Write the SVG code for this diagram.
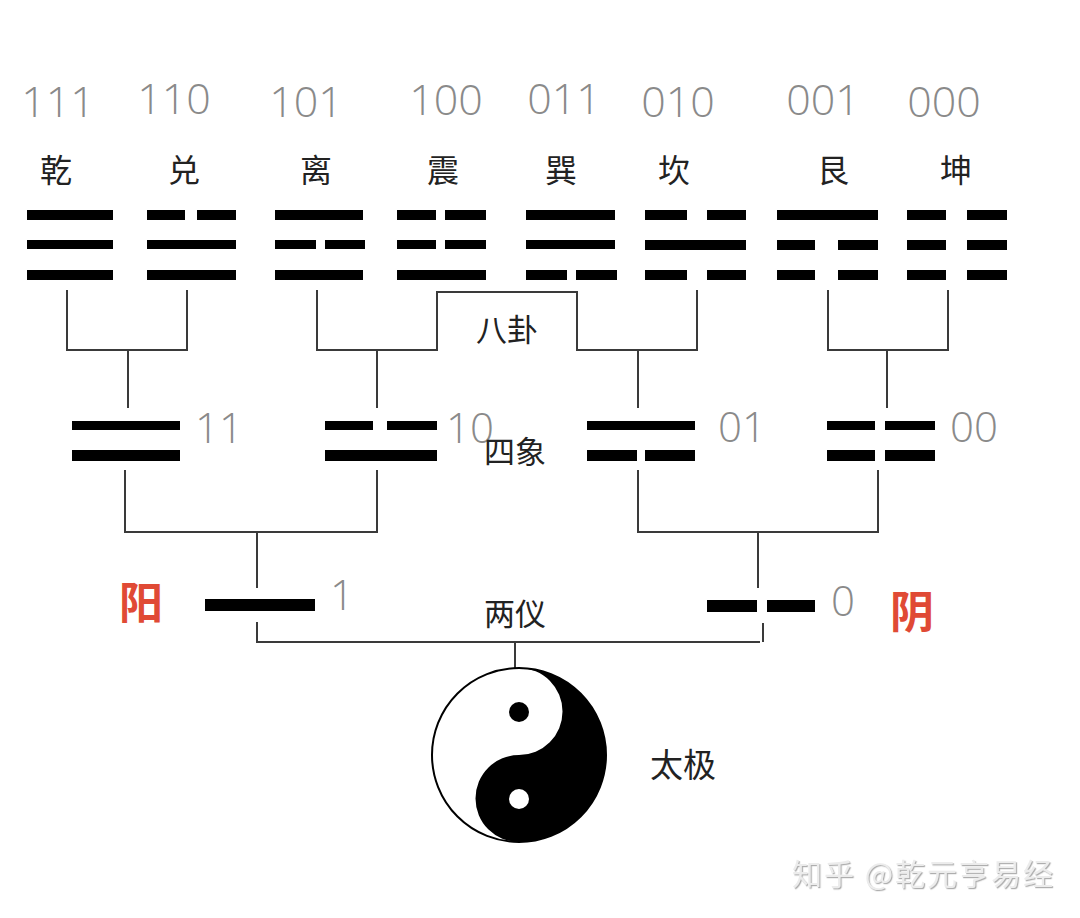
<svg xmlns="http://www.w3.org/2000/svg" width="1080" height="918" viewBox="0 0 1080 918">
<style>
.num{font-family:"Open Sans","Liberation Sans",sans-serif;font-weight:300;fill:#8a8a8a;}
.n3{font-size:43px;text-anchor:middle;}
.n2{font-size:42px;}
.cjk{font-family:"Noto Sans CJK SC","Noto Sans",sans-serif;fill:#222;}
.name{font-size:32px;text-anchor:middle;}
.lvl{font-size:31px;text-anchor:middle;}
.red{font-family:"Noto Sans CJK SC",sans-serif;font-size:44px;font-weight:bold;fill:#e04a35;text-anchor:middle;}
.bar{fill:#000;}
.conn{fill:none;stroke:#3a3a3a;stroke-width:2;}
.wm{font-family:"Noto Sans CJK SC",sans-serif;font-size:30px;fill:#ececec;}
</style>
<defs>
<filter id="emb" x="-5%" y="-20%" width="110%" height="140%">
<feDropShadow dx="1.2" dy="1.2" stdDeviation="0.6" flood-color="#9a9a9a" flood-opacity="0.8"/>
</filter>
</defs>
<rect width="1080" height="918" fill="#fff"/>

<g id="connectors" class="conn">
<path d="M67,290 V350 H187 V290"/>
<path d="M128,350 V408"/>
<path d="M317,290 V350 H437 V292 H577 V350 H697 V290"/>
<path d="M377,350 V408"/>
<path d="M638,350 V408"/>
<path d="M828,290 V350 H948 V290"/>
<path d="M887,350 V408"/>
<path d="M125,470 V532 H377 V470"/>
<path d="M257,532 V588"/>
<path d="M638,470 V532 H878 V470"/>
<path d="M758,532 V588"/>
<path d="M257,622 V642 H760"/>
<path d="M763,623 V642"/>
<path d="M515,642 V670"/>
</g>

<g id="trigram-qian">
<text class="num n3" x="58" y="117">111</text>
<text class="cjk name" x="56" y="182">乾</text>
<rect class="bar" x="27" y="210" width="86" height="10"/>
<rect class="bar" x="27" y="240" width="86" height="9"/>
<rect class="bar" x="27" y="270" width="86" height="10"/>
</g>
<g id="trigram-dui">
<text class="num n3" x="174" y="114">110</text>
<text class="cjk name" x="184" y="182">兑</text>
<rect class="bar" x="147" y="210" width="38" height="10"/>
<rect class="bar" x="197" y="210" width="39" height="10"/>
<rect class="bar" x="147" y="240" width="89" height="9"/>
<rect class="bar" x="147" y="270" width="89" height="10"/>
</g>
<g id="trigram-li">
<text class="num n3" x="306" y="117">101</text>
<text class="cjk name" x="316" y="182">离</text>
<rect class="bar" x="275" y="210" width="88" height="10"/>
<rect class="bar" x="275" y="240" width="41" height="9"/>
<rect class="bar" x="325" y="240" width="40" height="9"/>
<rect class="bar" x="275" y="270" width="88" height="10"/>
</g>
<g id="trigram-zhen">
<text class="num n3" x="446" y="115">100</text>
<text class="cjk name" x="443" y="182">震</text>
<rect class="bar" x="397" y="210" width="39" height="10"/>
<rect class="bar" x="445" y="210" width="41" height="10"/>
<rect class="bar" x="397" y="240" width="39" height="9"/>
<rect class="bar" x="445" y="240" width="41" height="9"/>
<rect class="bar" x="397" y="270" width="89" height="10"/>
</g>
<g id="trigram-xun">
<text class="num n3" x="564" y="114">011</text>
<text class="cjk name" x="561" y="182">巽</text>
<rect class="bar" x="526" y="210" width="89" height="10"/>
<rect class="bar" x="526" y="240" width="89" height="9"/>
<rect class="bar" x="526" y="270" width="41" height="10"/>
<rect class="bar" x="576" y="270" width="41" height="10"/>
</g>
<g id="trigram-kan">
<text class="num n3" x="678" y="117">010</text>
<text class="cjk name" x="674" y="182">坎</text>
<rect class="bar" x="645" y="210" width="42" height="10"/>
<rect class="bar" x="707" y="210" width="39" height="10"/>
<rect class="bar" x="645" y="240" width="101" height="10"/>
<rect class="bar" x="645" y="270" width="42" height="10"/>
<rect class="bar" x="707" y="270" width="39" height="10"/>
</g>
<g id="trigram-gen">
<text class="num n3" x="823" y="115">001</text>
<text class="cjk name" x="833" y="182">艮</text>
<rect class="bar" x="777" y="210" width="101" height="10"/>
<rect class="bar" x="777" y="240" width="38" height="10"/>
<rect class="bar" x="838" y="240" width="40" height="10"/>
<rect class="bar" x="777" y="270" width="38" height="10"/>
<rect class="bar" x="838" y="270" width="40" height="10"/>
</g>
<g id="trigram-kun">
<text class="num n3" x="944" y="117">000</text>
<text class="cjk name" x="956" y="182">坤</text>
<rect class="bar" x="907" y="210" width="39" height="10"/>
<rect class="bar" x="967" y="210" width="40" height="10"/>
<rect class="bar" x="907" y="240" width="39" height="10"/>
<rect class="bar" x="967" y="240" width="40" height="10"/>
<rect class="bar" x="907" y="270" width="39" height="10"/>
<rect class="bar" x="967" y="270" width="40" height="10"/>
</g>

<g id="label-bagua"><text class="cjk lvl" x="507" y="341">八卦</text></g>

<g id="symbol-11">
<rect class="bar" x="72" y="421" width="108" height="9"/>
<rect class="bar" x="72" y="450" width="108" height="11"/>
<text class="num n2" x="195" y="443">11</text>
</g>
<g id="symbol-10">
<rect class="bar" x="325" y="421" width="48" height="9"/>
<rect class="bar" x="387" y="421" width="50" height="9"/>
<rect class="bar" x="325" y="450" width="112" height="11"/>
<text class="num n2" x="446" y="443">10</text>
</g>
<g id="label-sixiang"><text class="cjk lvl" x="515" y="463">四象</text></g>
<g id="symbol-01">
<rect class="bar" x="587" y="421" width="108" height="9"/>
<rect class="bar" x="587" y="450" width="50" height="11"/>
<rect class="bar" x="645" y="450" width="50" height="11"/>
<text class="num n2" x="718" y="442">01</text>
</g>
<g id="symbol-00">
<rect class="bar" x="827" y="421" width="48" height="9"/>
<rect class="bar" x="885" y="421" width="50" height="9"/>
<rect class="bar" x="827" y="450" width="48" height="11"/>
<rect class="bar" x="885" y="450" width="50" height="11"/>
<text class="num n2" x="950" y="442">00</text>
</g>

<g id="yang">
<text class="red" x="141" y="619">阳</text>
<rect class="bar" x="205" y="599" width="110" height="12"/>
<text class="num n2" x="330" y="610">1</text>
</g>
<g id="label-liangyi"><text class="cjk lvl" x="515" y="625">两仪</text></g>
<g id="yin">
<rect class="bar" x="707" y="600" width="50" height="12"/>
<rect class="bar" x="767" y="600" width="48" height="12"/>
<text class="num n2" x="831" y="616">0</text>
<text class="red" x="912" y="628">阴</text>
</g>

<g id="taiji">
<circle cx="519" cy="755" r="87" fill="#fff" stroke="#000" stroke-width="2"/>
<path d="M519,668 A87,87 0 0,1 519,842 A43.5,43.5 0 0,1 519,755 A43.5,43.5 0 0,0 519,668 Z" fill="#000"/>
<circle cx="519" cy="712" r="10" fill="#000"/>
<circle cx="519" cy="799" r="10" fill="#fff"/>
<text class="cjk" x="650" y="777" font-size="33">太极</text>
</g>

<g id="watermark"><text class="wm" x="792" y="885" filter="url(#emb)" textLength="261">知乎 @乾元亨易经</text></g>
</svg>
